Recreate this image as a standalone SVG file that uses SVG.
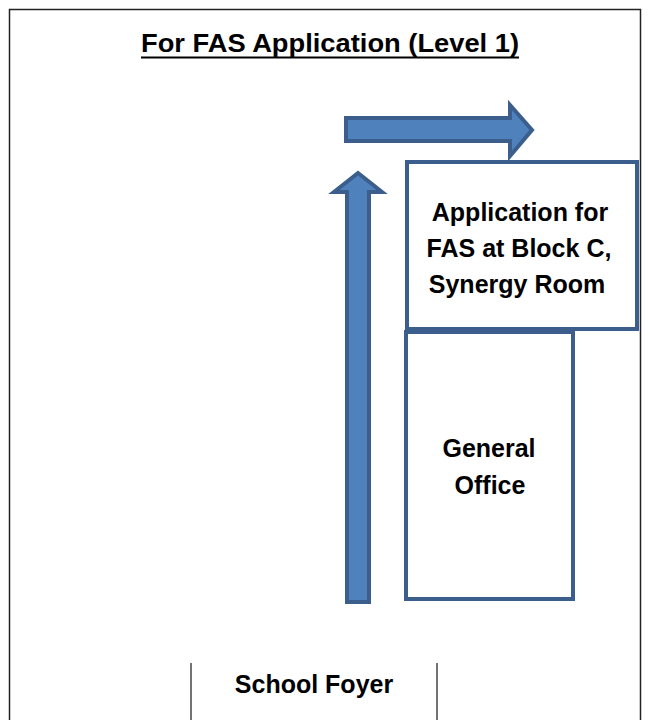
<svg xmlns="http://www.w3.org/2000/svg" width="650" height="720" viewBox="0 0 650 720">
<style>
.t{font-family:"Liberation Sans",Arial,sans-serif;font-weight:bold;fill:#000;text-anchor:middle}
.box{fill:#fff;stroke:#3B5E8C;stroke-width:4}
.arr{fill:#4F81BD;stroke:#3B5E8C;stroke-width:4;stroke-linejoin:miter}
.wall{stroke:#444;stroke-width:1.5;fill:none}
</style>
<rect x="0" y="0" width="650" height="720" fill="#fff"/>
<path d="M9.5 722 V9.5 H640.5 V722" fill="none" stroke="#222" stroke-width="1.5"/>
<text class="t" x="330" y="52" font-size="26" textLength="378" lengthAdjust="spacingAndGlyphs">For FAS Application (Level 1)</text>
<line x1="141" y1="57.5" x2="519" y2="57.5" stroke="#000" stroke-width="2"/>
<g id="connectors">
<polygon class="arr" points="346,118 510,118 510,105 532,130 510,156 510,141 346,141"/>
<polygon class="arr" points="347,602 347,192 334,192 358,173 382,192 369,192 369,602"/>
</g>
<g id="application">
<rect class="box" x="407" y="162" width="230" height="167"/>
<text class="t" x="520" y="221" font-size="25">Application for</text>
<text class="t" x="519" y="257" font-size="25">FAS at Block C,</text>
<text class="t" x="517" y="293" font-size="25">Synergy Room</text>
</g>
<g id="general-office">
<rect class="box" x="406" y="332" width="167" height="267"/>
<text class="t" x="489" y="457" font-size="25">General</text>
<text class="t" x="490" y="494" font-size="25">Office</text>
</g>
<g id="school-foyer">
<line class="wall" x1="191" y1="663" x2="191" y2="720"/>
<line class="wall" x1="437" y1="663" x2="437" y2="720"/>
<text class="t" x="314" y="693" font-size="25">School Foyer</text>
</g>
</svg>
